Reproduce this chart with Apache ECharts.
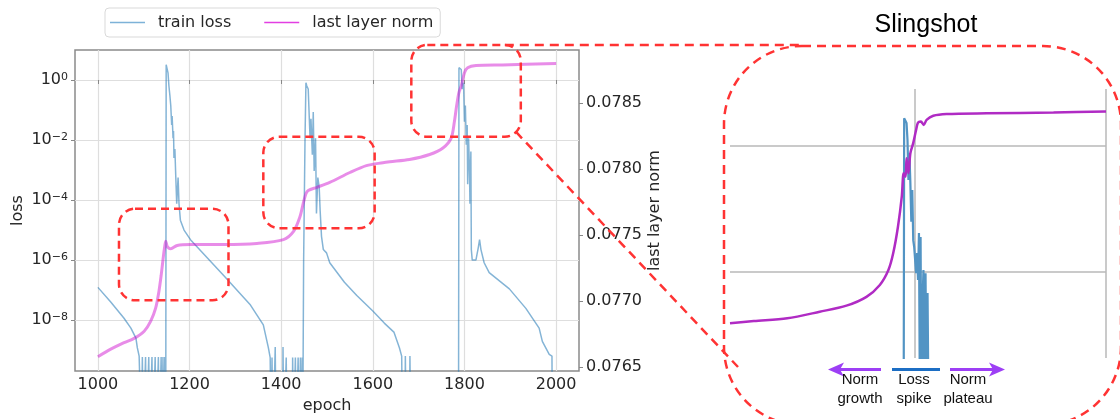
<!DOCTYPE html>
<html>
<head>
<meta charset="utf-8">
<script src="https://cdn.jsdelivr.net/npm/echarts@6/dist/echarts.min.js"></script>
<style>
html, body { margin: 0; padding: 0; background: #fff; }
#chart { width: 1120px; height: 419px; }
</style>
</head>
<body>
<div id="chart"></div>
<script>
// loss is plotted as log10(loss); Z = loss hit exactly 0 (drawn below the axis floor, clipped)
var Z = -12;

var epochTicks = [1000, 1200, 1400, 1600, 1800, 2000];
var lossTicks = [-8, -6, -4, -2, 0];
var normTicks = [0.0765, 0.0770, 0.0775, 0.0780, 0.0785];

var lossEpoch = [
    1000, 1028, 1057, 1072, 1083, 1086, 1090, 1093,
    1095, 1097, 1099, 1103, 1104, 1106, 1110, 1111, 1113, 1117, 1118, 1120, 1124, 1125, 1127, 1131, 1132, 1134, 1137, 1138, 1140, 1142, 1144, 1146, 1148,
    1149, 1151, 1153, 1155, 1157, 1159, 1161, 1162, 1164, 1165, 1166, 1168, 1170, 1172, 1175, 1177, 1180, 1188, 1202, 1275, 1333, 1361, 1372, 1376,
    1378, 1380, 1382, 1386, 1387, 1389, 1403, 1404, 1406, 1410, 1411, 1413, 1424, 1425, 1427, 1430, 1431, 1433, 1436, 1437, 1439, 1441, 1442, 1444, 1446, 1447, 1448,
    1449, 1452, 1454, 1456, 1459, 1463, 1465, 1468, 1470, 1472, 1475, 1477, 1480, 1483, 1485, 1488, 1492, 1499, 1506, 1538, 1565, 1600, 1625, 1646, 1658, 1663,
    1665, 1670, 1671, 1673, 1680, 1681, 1683, 1787,
    1788, 1790, 1793, 1795, 1798, 1800, 1802, 1804, 1806, 1807, 1809, 1811, 1812, 1814, 1815, 1817, 1825, 1830, 1833, 1836, 1843, 1854, 1898, 1934, 1963, 1970, 1985, 1991, 1992, 2000
];
var lossLog = [
    -6.91, -7.40, -7.94, -8.27, -8.60, -8.92, -9.20, -9.23,
    Z, -9.23, Z, Z, -9.23, Z, Z, -9.23, Z, Z, -9.23, Z, Z, -9.23, Z, Z, -9.23, Z, Z, -9.23, Z, -9.23, Z, -9.23, Z,
    0.51, 0.45, 0.24, -0.2, -0.5, -0.85, -1.5, -1.2, -1.94, -1.7, -2.6, -2.3, -3.25, -4.12, -3.25, -4.12, -4.67, -5.0, -5.32, -6.52, -7.5, -8.16, -8.92, -9.25,
    Z, -9.25, Z, Z, -8.9, Z, Z, -8.9, Z, Z, -9.25, Z, Z, -9.25, Z, Z, -9.25, Z, Z, -9.25, Z, Z, -9.25, Z, -9.25, Z, Z,
    -6, -2, -0.09, -0.2, -0.3, -1.94, -1.29, -2.49, -1.07, -3.03, -1.94, -4.45, -3.25, -3.58, -4.34, -5.21, -5.65, -5.76, -6.09, -6.74, -7.18, -7.7, -8.1, -8.4, -8.92, -9.2,
    Z, Z, -9.2, Z, Z, -9.2, Z, Z,
    0.41, 0.41, 0.35, -0.3, -0.09, -1.39, -0.85, -2.16, -1.5, -3.47, -1.94, -3.03, -4.12, -2.38, -5.65, -6.0, -6.0, -5.6, -5.32, -5.65, -6.09, -6.42, -6.96, -7.61, -8.27, -8.71, -9.14, -9.2, Z, Z
];

var normEpoch = [1000, 1028, 1057, 1079, 1101, 1115, 1126, 1133, 1138, 1143, 1146, 1148, 1151, 1155, 1159, 1173, 1202, 1275, 1347,
    1405, 1427, 1441, 1448, 1454, 1459, 1478, 1506, 1550, 1586, 1622, 1637, 1680, 1724, 1753, 1771, 1778, 1783, 1788, 1793, 1800, 1807, 1825, 1883, 2000];
var normValue = [0.076579, 0.076636, 0.076685, 0.076718, 0.076772, 0.076846, 0.076946, 0.077069, 0.077193, 0.077341, 0.077416, 0.077453, 0.077416, 0.077400, 0.077396, 0.077421, 0.077428, 0.077428, 0.077436,
    0.077465, 0.077527, 0.077638, 0.077737, 0.077812, 0.077837, 0.077861, 0.077898, 0.077973, 0.078025, 0.078047, 0.078054, 0.078071, 0.078109, 0.078158, 0.078233, 0.078357, 0.078480, 0.078579, 0.078628, 0.078728, 0.078765, 0.078782, 0.078787, 0.078797];

// zoomed "Slingshot" panel
var zoomNormEpoch = [1606, 1631, 1666, 1700, 1728, 1749, 1763, 1772, 1777, 1782, 1786, 1788, 1790, 1791, 1793, 1795, 1798, 1801, 1803, 1806, 1809, 1812, 1819, 1833, 1875, 1945, 2000];
var zoomNormValue = [0.077797, 0.077806, 0.077817, 0.077843, 0.077867, 0.077902, 0.077949, 0.078008, 0.078074, 0.078179, 0.078298, 0.078391, 0.078377, 0.078450, 0.078391, 0.078470, 0.078510, 0.078562, 0.078591, 0.078595, 0.078582, 0.078602, 0.078618, 0.078625, 0.078628, 0.078631, 0.078635];
var zoomLossEpoch = [1788, 1788.5, 1790, 1791, 1792, 1793, 1794, 1795, 1796, 1797, 1798, 1799, 1801, 1802, 1803, 1804, 1805, 1805.7, 1806.6, 1807.6, 1808.7, 1809.8, 1810.9, 1811.9, 1813, 1814];
var zoomLossLog = [Z, -0.2, -0.2, -0.39, -1.09, -2.72, -1.62, -2.84, -4.43, -3.13, -5.18, -5.46, -6.53, -5.71, -6.81, -4.89, Z, -5.05, Z, -7.92, -6.4, Z, -6.53, Z, -7.34, Z];
var zoomEpochTicks = [1800, 2000];
var zoomNormTicks = [0.0780, 0.0785];

// highlighted regions: [epoch from, epoch to, log10 loss top, log10 loss bottom]
var boxes = [
    [1046, 1285, -4.29, -7.34],
    [1361, 1604, -1.89, -4.94],
    [1684, 1923, 1.17, -1.89]
];

var FONT = 'DejaVu Sans';
var TXT = '#262626';

function zip(a, b) {
    return a.map(function (x, i) { return [x, b[i]]; });
}

var chart = echarts.init(document.getElementById('chart'));

option = {
    animation: false,
    legend: {
        left: 105,
        top: 8,
        icon: 'rect',
        itemWidth: 35,
        itemHeight: 1.5,
        itemGap: 33,
        padding: [5, 7, 5, 5],
        borderColor: '#d9d9d9',
        borderWidth: 1,
        borderRadius: 4,
        textStyle: { fontFamily: FONT, fontSize: 16, color: TXT, padding: [0, 0, 0, 8], lineHeight: 19 },
        data: [
            { name: 'train loss', itemStyle: { color: '#7db2d8', opacity: 1 } },
            { name: 'last layer norm', itemStyle: { color: '#e23fe2', opacity: 1 } }
        ]
    },
    grid: [
        { left: 75, right: 541, top: 50, bottom: 42, show: true, borderColor: '#8a8a8a', borderWidth: 1.5 },
        { left: 730, right: 14, top: 89, bottom: 61 }
    ],
    xAxis: [
        {
            type: 'value', gridIndex: 0, min: 950, max: 2050,
            name: 'epoch', nameLocation: 'middle', nameGap: 23,
            nameTextStyle: { fontFamily: FONT, fontSize: 16, color: TXT },
            axisLine: { show: false },
            axisTick: { customValues: epochTicks, length: 4, lineStyle: { color: '#888' } },
            axisLabel: {
                customValues: epochTicks, margin: 6, fontFamily: FONT, fontSize: 16, color: TXT,
                formatter: function (v) { return String(v); }
            },
            splitLine: { show: true, lineStyle: { color: '#dedede', width: 1.2 } }
        },
        {
            type: 'value', gridIndex: 1, min: 1606, max: 2000,
            axisLine: { show: false },
            axisTick: { show: false, customValues: zoomEpochTicks },
            axisLabel: { show: false, customValues: zoomEpochTicks },
            splitLine: { show: true, lineStyle: { color: '#b8b8b8', width: 1.5 } }
        }
    ],
    yAxis: [
        {
            type: 'value', gridIndex: 0, position: 'left', min: -9.7, max: 1.0,
            name: 'loss', nameLocation: 'middle', nameGap: 49, nameRotate: 90,
            nameTextStyle: { fontFamily: FONT, fontSize: 16, color: TXT },
            axisLine: { show: false },
            axisTick: { customValues: lossTicks, length: 4, lineStyle: { color: '#888' } },
            axisLabel: {
                customValues: lossTicks, margin: 7,
                formatter: function (v) {
                    return '{b|10}{s|' + (v === 0 ? '0' : '\u2212' + (-v)) + '}';
                },
                rich: {
                    b: { fontFamily: FONT, fontSize: 16, color: TXT, lineHeight: 17 },
                    s: { fontFamily: FONT, fontSize: 11, color: TXT, lineHeight: 11, verticalAlign: 'top' }
                }
            },
            splitLine: { show: true, lineStyle: { color: '#dedede', width: 1.2 } }
        },
        {
            type: 'value', gridIndex: 0, position: 'right', min: 0.07647, max: 0.0789,
            name: 'last layer norm', nameLocation: 'middle', nameGap: 68, nameRotate: 90,
            nameTextStyle: { fontFamily: FONT, fontSize: 16, color: TXT },
            axisLine: { show: false },
            axisTick: { customValues: normTicks, length: 4, lineStyle: { color: '#888' } },
            axisLabel: {
                customValues: normTicks, margin: 7, fontFamily: FONT, fontSize: 16, color: TXT,
                formatter: function (v) { return v.toFixed(4); }
            },
            splitLine: { show: false }
        },
        {
            type: 'value', gridIndex: 1, min: 0.07766, max: 0.078724,
            axisLine: { show: false },
            axisTick: { show: false, customValues: zoomNormTicks },
            axisLabel: { show: false, customValues: zoomNormTicks },
            splitLine: { show: true, lineStyle: { color: '#b8b8b8', width: 1.5 } }
        },
        {
            type: 'value', gridIndex: 1, min: -10, max: 1,
            axisLine: { show: false }, axisTick: { show: false },
            axisLabel: { show: false }, splitLine: { show: false }
        }
    ],
    series: [
        {
            name: 'train loss', type: 'line', xAxisIndex: 0, yAxisIndex: 0,
            data: zip(lossEpoch, lossLog), symbol: 'none', clip: true,
            itemStyle: { color: '#1f77b4' },
            lineStyle: { color: '#1f77b4', width: 1.5, opacity: 0.55 }
        },
        {
            name: 'last layer norm', type: 'line', xAxisIndex: 0, yAxisIndex: 1,
            data: zip(normEpoch, normValue), symbol: 'none', smooth: 0.3, clip: true,
            itemStyle: { color: '#cc00cc' },
            lineStyle: { color: '#cc00cc', width: 3, opacity: 0.45 }
        },
        {
            name: 'zoom loss', type: 'line', xAxisIndex: 1, yAxisIndex: 3,
            data: zip(zoomLossEpoch, zoomLossLog), symbol: 'none', clip: true,
            lineStyle: { color: '#5294c4', width: 2.2 }
        },
        {
            name: 'zoom norm', type: 'line', xAxisIndex: 1, yAxisIndex: 2,
            data: zip(zoomNormEpoch, zoomNormValue), symbol: 'none', smooth: 0.3, clip: true,
            lineStyle: { color: '#b02bc4', width: 2.5 }
        }
    ]
};

chart.setOption(option);

// red dashed annotations, boxes placed from data coordinates
var red = { fill: 'none', stroke: '#ff3333', lineWidth: 2.5, lineDash: [8, 5] };
var graphics = [];
var rects = boxes.map(function (b) {
    var p1 = chart.convertToPixel({ xAxisIndex: 0, yAxisIndex: 0 }, [b[0], b[2]]);
    var p2 = chart.convertToPixel({ xAxisIndex: 0, yAxisIndex: 0 }, [b[1], b[3]]);
    return { x: p1[0], y: p1[1], w: p2[0] - p1[0], h: p2[1] - p1[1] };
});
rects.forEach(function (r) {
    graphics.push({ type: 'rect', z: 100, shape: { x: r.x, y: r.y, width: r.w, height: r.h, r: 16 }, style: red });
});
var last = rects[2];
var dash2 = { stroke: '#ff3333', lineWidth: 2.5, lineDash: [9, 6], fill: 'none' };
graphics.push({ type: 'line', z: 100, shape: { x1: last.x + last.w - 16, y1: last.y, x2: 802, y2: last.y }, style: dash2 });
graphics.push({ type: 'line', z: 100, shape: { x1: last.x + last.w - 5, y1: last.y + last.h - 5, x2: 738, y2: 367 }, style: dash2 });
graphics.push({ type: 'rect', z: 100, shape: { x: 724, y: 46, width: 397, height: 379, r: 78 }, style: dash2 });

graphics.push({
    type: 'text', x: 926, y: 25, z: 100,
    style: { text: 'Slingshot', fontFamily: 'Liberation Sans', fontSize: 25, fill: '#000', align: 'center', verticalAlign: 'middle' }
});

var violet = '#9d3ff5';
graphics.push({ type: 'line', z: 100, shape: { x1: 881, y1: 369.5, x2: 838, y2: 369.5 }, style: { stroke: violet, lineWidth: 3 } });
graphics.push({ type: 'polygon', z: 100, shape: { points: [[828, 369.5], [844, 362.5], [840, 369.5], [844, 376.5]] }, style: { fill: violet } });
graphics.push({ type: 'line', z: 100, shape: { x1: 892, y1: 369.5, x2: 940, y2: 369.5 }, style: { stroke: '#1c6ec4', lineWidth: 3 } });
graphics.push({ type: 'line', z: 100, shape: { x1: 950, y1: 369.5, x2: 995, y2: 369.5 }, style: { stroke: violet, lineWidth: 3 } });
graphics.push({ type: 'polygon', z: 100, shape: { points: [[1005, 369.5], [989, 362.5], [993, 369.5], [989, 376.5]] }, style: { fill: violet } });

[['Norm\ngrowth', 860], ['Loss\nspike', 914], ['Norm\nplateau', 968]].forEach(function (t) {
    graphics.push({
        type: 'text', x: t[1], y: 389, z: 100,
        style: { text: t[0], fontFamily: 'Liberation Sans', fontSize: 15, lineHeight: 19, fill: '#111', align: 'center', verticalAlign: 'middle' }
    });
});

chart.setOption({ graphic: graphics });
</script>
</body>
</html>
